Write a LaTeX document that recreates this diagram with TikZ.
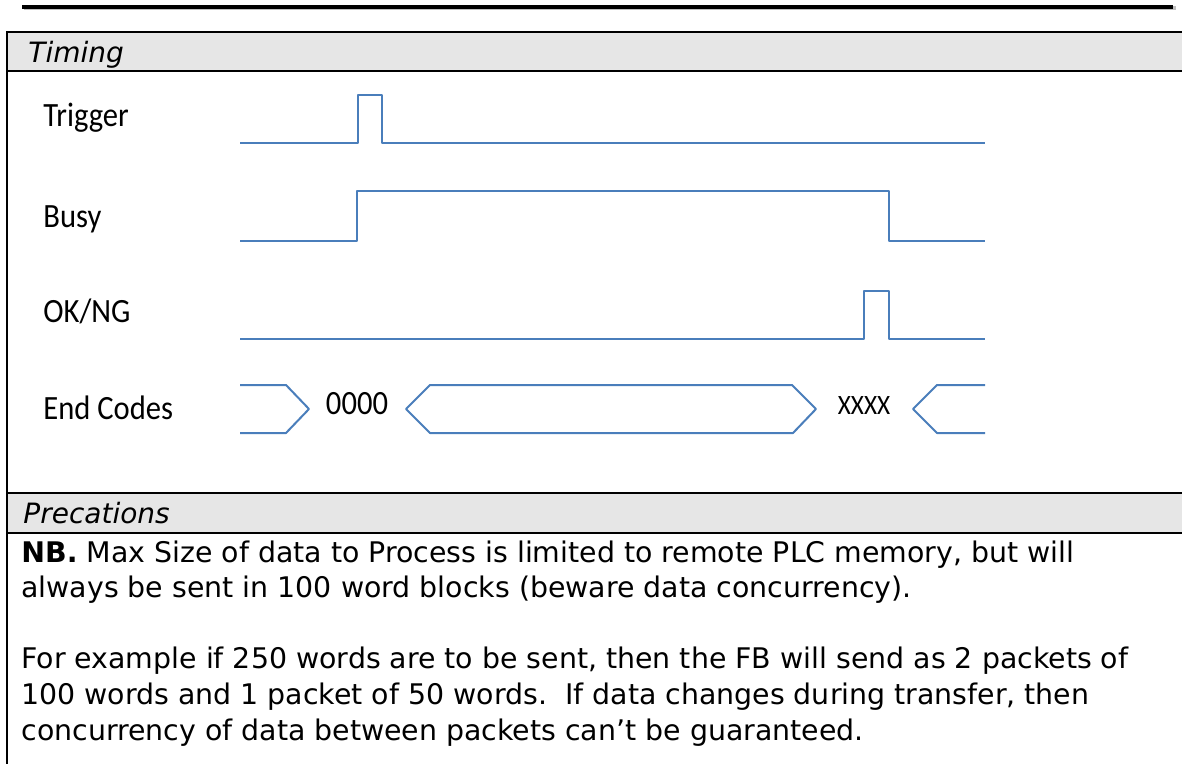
\documentclass[tikz,border=0pt]{standalone}
\usepackage{fontspec}
\newfontfamily\bodyfont{DejaVu Sans}
\newfontfamily\labelfont{Carlito}[FakeStretch=0.9]
\definecolor{wave}{HTML}{4A7EBB}
\definecolor{headgray}{HTML}{E6E6E6}
\tikzset{
  signal/.style={draw=wave, line width=1pt, line join=round},
  sectionhead/.style={font={\bodyfont\itshape\fontsize{14}{17}\selectfont}, anchor=base west, inner sep=0pt},
  siglabel/.style={font={\labelfont\fontsize{17}{20}\selectfont}, anchor=base west, inner sep=0pt},
  buslabel/.style={font={\labelfont\fontsize{17}{20}\selectfont}, anchor=base, inner sep=0pt},
  bodyline/.style={font={\bodyfont\fontsize{14.2}{17}\selectfont}, anchor=base west, inner sep=0pt},
  frame/.style={line width=1.25pt}
}
\begin{document}
\begin{tikzpicture}[x=0.5pt,y=-0.5pt]
\useasboundingbox (0,0) rectangle (1182,764);
\clip (0,0) rectangle (1182,764);

% page rule with a faint shadow
\draw[line width=2pt, black!25] (24,8.5) -- (1176,8.5);
\draw[line width=2pt] (22,7) -- (1173,7);

% table: shaded section headers and borders
\fill[headgray] (7,32) rectangle (1190,71);
\fill[headgray] (7,493) rectangle (1190,533);
\draw[frame] (7,32) -- (1190,32);
\draw[frame] (7,71) -- (1190,71);
\draw[frame] (7,493) -- (1190,493);
\draw[frame] (7,533) -- (1190,533);
\draw[frame] (7,31.4) -- (7,770);

\node[sectionhead] (hTiming) at (28,63) {Timing};
\node[sectionhead] (hPrec) at (23,523) {Precations};

% signal names
\node[siglabel] (lTrig) at (43,127) {Trigger};
\node[siglabel] (lBusy) at (43,228) {Busy};
\node[siglabel] (lOk) at (43,322) {OK/NG};
\node[siglabel] (lEnd) at (43,419) {End Codes};

% Trigger
\draw[signal] (240,143) -- (358,143) -- (358,95) -- (382,95) -- (382,143) -- (985,143);
% Busy
\draw[signal] (240,241) -- (357,241) -- (357,191) -- (889,191) -- (889,241) -- (985,241);
% OK/NG
\draw[signal] (240,339) -- (864,339) -- (864,291) -- (889,291) -- (889,339) -- (985,339);
% End Codes bus
\draw[signal] (240,385) -- (286,385) -- (309,409) -- (286,433) -- (240,433);
\draw[signal] (430,385) -- (792,385) -- (816,409) -- (793,433) -- (430,433) -- (406,409) -- cycle;
\draw[signal] (985,385) -- (937,385) -- (913,409) -- (937,433) -- (985,433);
\node[buslabel] (codeOk) at (357,415) {0000};
\node[buslabel, font={\labelfont\fontsize{14}{17}\selectfont}] (codeX) at (864,415) {XXXX};

% notes
\node[bodyline] (t1) at (21,562) {\textbf{NB.} Max Size of data to Process is limited to remote PLC memory, but will};
\node[bodyline] (t2) at (21,597) {always be sent in 100 word blocks (beware data concurrency).};
\node[bodyline] (t3) at (21,668) {For example if 250 words are to be sent, then the FB will send as 2 packets of};
\node[bodyline] (t4) at (21,704) {100 words and 1 packet of 50 words.\ \ If data changes during transfer, then};
\node[bodyline] (t5) at (21,740) {concurrency of data between packets can’t be guaranteed.};
\end{tikzpicture}
\end{document}
